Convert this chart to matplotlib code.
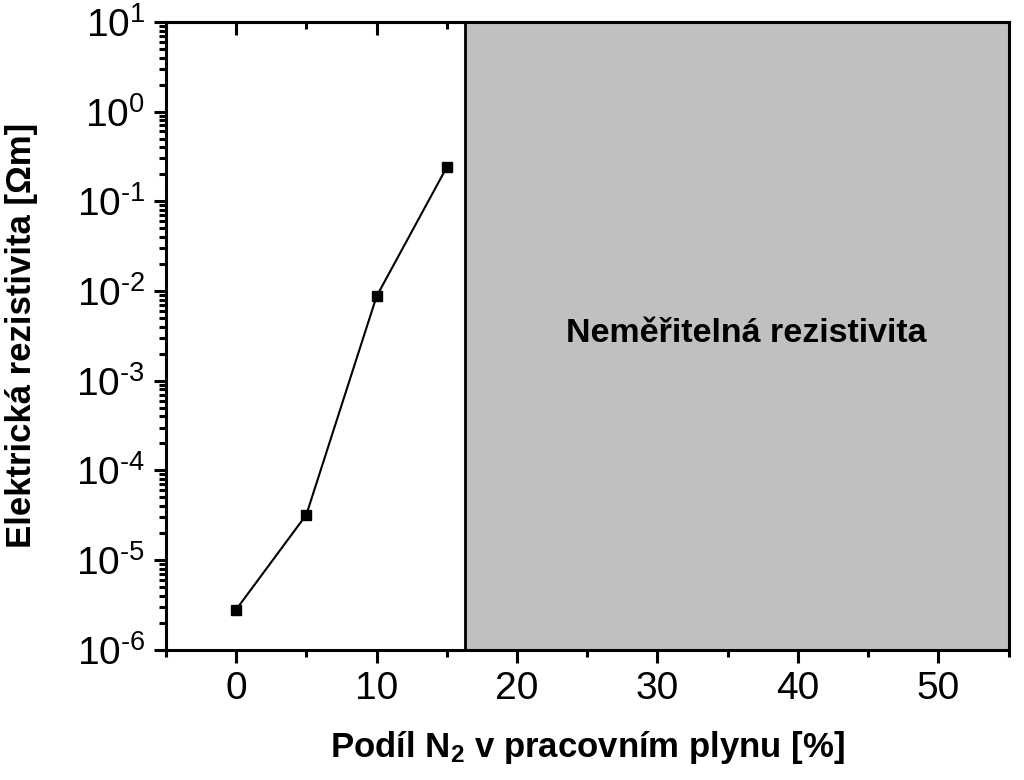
import matplotlib
matplotlib.use('Agg')
import matplotlib.pyplot as plt
from matplotlib.ticker import MultipleLocator, LogLocator, FuncFormatter
import numpy as np

# data
n2_share = [0, 5, 10, 15]
resistivity = [2.8e-6, 3.2e-5, 8.7e-3, 0.24]
unmeasurable_from = 16.3
x_limits = (-5, 55)
y_limits = (1e-6, 1e1)

plt.rcParams['font.family'] = ['Liberation Sans', 'DejaVu Sans']
plt.rcParams['mathtext.fontset'] = 'custom'
plt.rcParams['mathtext.rm'] = 'Liberation Sans'
plt.rcParams['mathtext.bf'] = 'Liberation Sans:bold'

fig = plt.figure(figsize=(10.24, 7.8), dpi=100)
ax = fig.add_axes([0.162, 0.167, 0.823, 0.805])

ax.axvspan(unmeasurable_from, x_limits[1], facecolor='#c0c0c0', edgecolor='black',
           linewidth=2, zorder=1)
ax.plot(n2_share, resistivity, color='black', lw=1.5, marker='s', ms=7, zorder=3)
ax.text(36.3, 10**-2.47, 'Neměřitelná rezistivita', ha='center', va='center',
        fontsize=24.5, fontweight='bold')

ax.set_yscale('log')
ax.set_xlim(*x_limits)
ax.set_ylim(*y_limits)
ax.xaxis.set_major_locator(MultipleLocator(10))
ax.xaxis.set_minor_locator(MultipleLocator(5))
ax.yaxis.set_major_locator(LogLocator(base=10, numticks=20))
ax.yaxis.set_minor_locator(LogLocator(base=10, subs=np.arange(2, 10), numticks=20))
ax.yaxis.set_major_formatter(FuncFormatter(
    lambda v, p: r'$\mathregular{10^{\text{%d}}}$' % round(np.log10(v))))

for s in ax.spines.values():
    s.set_linewidth(2.2)
    s.set_zorder(4)

ax.tick_params(axis='both', which='major', direction='out', length=9, width=2.2,
               labelsize=28, pad=6)
ax.tick_params(axis='both', which='minor', direction='out', length=5, width=2.2)
ax.tick_params(axis='x', top=False, right=False)

top = ax.secondary_xaxis('top')
top.xaxis.set_major_locator(MultipleLocator(10))
top.xaxis.set_minor_locator(MultipleLocator(5))
top.tick_params(which='major', direction='in', length=9, width=2.2, labeltop=False)
top.tick_params(which='minor', direction='in', length=5, width=2.2)
top.spines['top'].set_linewidth(2.2)

ax.set_xlabel(r'Podíl $\mathbf{N_2}$ v pracovním plynu [%]', fontsize=25,
              fontweight='bold', va='center')
ax.set_ylabel('Elektrická rezistivita [Ωm]', fontsize=25, fontweight='bold',
              va='center')
ax.xaxis.set_label_coords(0.5, -0.156)
ax.yaxis.set_label_coords(-0.171, 0.5)

fig.savefig('out.png', dpi=100)
